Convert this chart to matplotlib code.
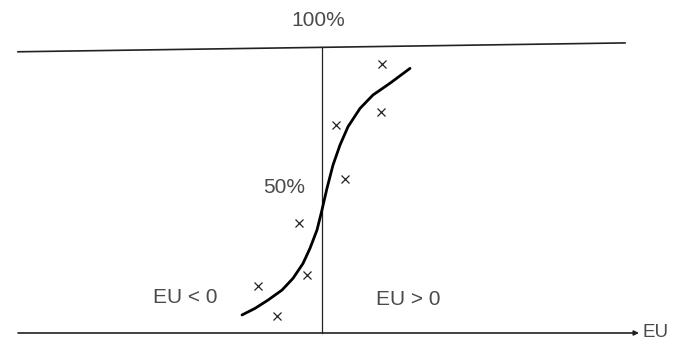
import matplotlib.pyplot as plt
from matplotlib import font_manager

# ── Data (EU on x, share in % on y) ───────────────────────
curve_eu = [-0.80, -0.67, -0.54, -0.40, -0.29, -0.19, -0.12, -0.05, -0.005,
            0.05, 0.11, 0.18, 0.26, 0.38, 0.51, 0.68, 0.88]
curve_pct = [6.3, 8.6, 11.5, 15.0, 19.1, 24.3, 29.6, 36.0, 42.3,
             50.6, 58.7, 65.7, 72.1, 78.5, 83.2, 87.3, 92.5]

obs_eu = [0.60, 0.59, 0.14, 0.23, -0.23, -0.15, -0.64, -0.45]
obs_pct = [94.1, 77.4, 72.7, 53.7, 38.4, 20.3, 16.4, 5.9]

top_eu = [-3.04, 3.03]
top_pct = [98.3, 101.4]

ink = "#222222"
txt = "#4a4a4a"

installed = {f.name for f in font_manager.fontManager.ttflist}
narrow = "Liberation Sans Narrow" in installed
plt.rcParams['font.family'] = (['Liberation Sans Narrow', 'DejaVu Sans'] if narrow
                               else ['Liberation Sans', 'DejaVu Sans'])
fs = 18.5 if narrow else 15

fig = plt.figure(figsize=(6.73, 3.45), dpi=100)
ax = fig.add_axes([0, 0, 1, 1])
ax.set_xlim(-3.22, 3.51)
ax.set_ylim(-4.2, 116.4)
ax.axis("off")

# frame lines
ax.plot(top_eu, top_pct, color=ink, lw=1.2)
ax.plot([0, 0], [0, 100], color=ink, lw=0.9)
ax.annotate("", xy=(3.17, 0), xytext=(-3.04, 0),
            arrowprops=dict(arrowstyle="-|>", color=ink, lw=1.2,
                            mutation_scale=7, shrinkA=0, shrinkB=0))

# S-curve and observations
ax.plot(curve_eu, curve_pct, color="black", lw=2.0, solid_capstyle="round",
        solid_joinstyle="round")
ax.plot(obs_eu, obs_pct, ls="none", marker="x", ms=5.5, mew=0.9, color=ink)

# labels
ax.text(-0.04, 109.2, "100%", ha="center", va="center", fontsize=fs, color=txt)
ax.text(-0.17, 50.7, "50%", ha="right", va="center", fontsize=fs, color=txt)
ax.text(-1.365, 12.4, "EU < 0", ha="center", va="center", fontsize=fs, color=txt)
ax.text(0.54, 11.8, "EU > 0", ha="left", va="center", fontsize=fs, color=txt)
ax.text(3.20, 0, "EU", ha="left", va="center", fontsize=fs - 1.5, color=txt)

fig.savefig("out.png", dpi=100)
